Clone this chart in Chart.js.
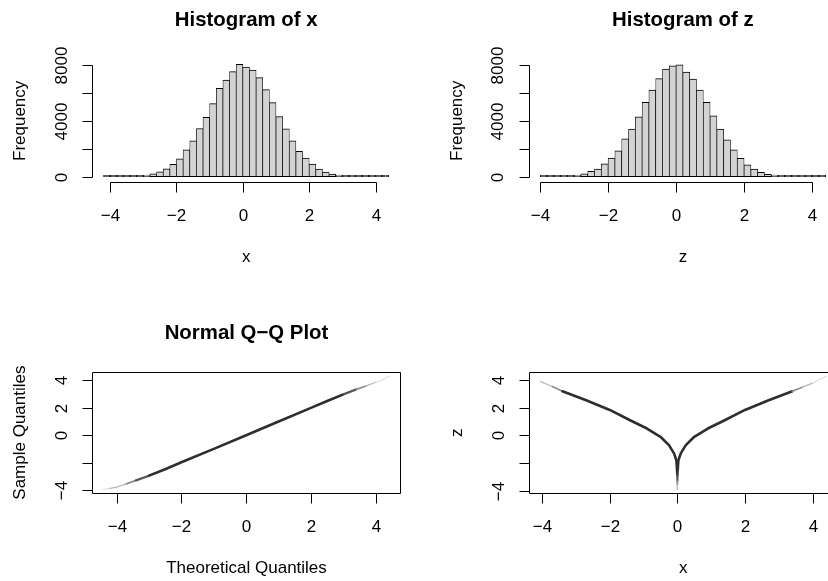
<!DOCTYPE html>
<html>
<head>
<meta charset="utf-8">
<script src="https://cdn.jsdelivr.net/npm/chart.js@4.4.1/dist/chart.umd.min.js"></script>
<style>
  html, body { margin: 0; padding: 0; background: #fff; width: 828px; height: 581px; overflow: hidden; position: relative; }
  canvas { position: absolute; }
</style>
</head>
<body>
<canvas id="histX" width="414" height="290" style="left:0;top:0;width:414px;height:290px"></canvas>
<canvas id="histZ" width="430" height="290" style="left:414px;top:0;width:430px;height:290px"></canvas>
<canvas id="qqPlot" width="414" height="291" style="left:0;top:290px;width:414px;height:291px"></canvas>
<canvas id="zVsX" width="430" height="291" style="left:414px;top:290px;width:430px;height:291px"></canvas>
<script>
// Histogram of x : left edge of each 0.2 wide bin, and its count
const binWidth = 0.2;
const xBinStarts = [-4.2, -4.0, -3.8, -3.6, -3.4, -3.2, -3.0, -2.8, -2.6, -2.4, -2.2, -2.0, -1.8, -1.6, -1.4,
  -1.2, -1.0, -0.8, -0.6, -0.4, -0.2, 0.0, 0.2, 0.4, 0.6, 0.8, 1.0, 1.2, 1.4, 1.6, 1.8, 2.0, 2.2, 2.4,
  2.6, 2.8, 3.0, 3.2, 3.4, 3.6, 3.8, 4.0, 4.2];
const xCounts = [1, 3, 8, 17, 33, 66, 110, 214, 357, 571, 880, 1285, 1928, 2570, 3451,
  4260, 5236, 6330, 6926, 7520, 8044, 7854, 7640, 7092, 6235, 5307, 4308, 3427, 2570, 1809, 1333, 904, 547, 333,
  190, 119, 65, 33, 17, 8, 4, 2, 1];

// Histogram of z
const zBinStarts = [-4.0, -3.8, -3.6, -3.4, -3.2, -3.0, -2.8, -2.6, -2.4, -2.2, -2.0, -1.8, -1.6, -1.4,
  -1.2, -1.0, -0.8, -0.6, -0.4, -0.2, 0.0, 0.2, 0.4, 0.6, 0.8, 1.0, 1.2, 1.4, 1.6, 1.8, 2.0, 2.2, 2.4,
  2.6, 2.8, 3.0, 3.2, 3.4, 3.6, 3.8, 4.0, 4.2];
const zCounts = [1, 3, 8, 17, 35, 110, 214, 380, 547, 928, 1333, 1856, 2713, 3403,
  4284, 5331, 6212, 7021, 7711, 7949, 8021, 7497, 6997, 6212, 5331, 4355, 3403, 2642, 1928, 1309, 857, 547, 309,
  167, 110, 62, 33, 17, 8, 4, 2, 1];

// Normal Q-Q plot
const qqTheoretical = [-4.42, -4.2, -4.0, -3.7, -3.4, -3.0, -2.5, -2.0, -1.0, 0, 1.0, 2.0, 2.5, 3.0, 3.4, 3.7, 4.0, 4.2, 4.42];
const qqSample      = [-3.94, -3.86, -3.78, -3.54, -3.28, -2.94, -2.47, -1.97, -0.99, 0, 1.0, 1.99, 2.49, 2.97, 3.33, 3.58, 3.85, 4.02, 4.30];

// z plotted against x: left and right branch of the curve
const leftX  = [-4.05, -3.7, -3.4, -2.7, -2.0, -1.4, -0.9, -0.5, -0.25, -0.1, -0.03, -0.01, 0, 0, 0, 0];
const leftZ  = [3.9, 3.55, 3.2, 2.55, 1.85, 1.1, 0.5, -0.1, -0.7, -1.3, -1.8, -2.5, -2.9, -3.3, -3.6, -3.94];
const rightX = [0.01, 0.03, 0.1, 0.25, 0.5, 0.9, 1.4, 2.0, 2.7, 3.4, 3.7, 4.0, 4.4];
const rightZ = [-2.5, -1.8, -1.3, -0.7, -0.1, 0.5, 1.1, 1.85, 2.55, 3.2, 3.5, 3.8, 4.3];

// Axis ticks and their labels
const MINUS = '\u2212';
const histXTicks = [-4, -2, 0, 2, 4];
const histXLabels = [MINUS + '4', MINUS + '2', '0', '2', '4'];
const histYTicks = [0, 2000, 4000, 6000, 8000];
const histYLabels = ['0', '', '4000', '', '8000'];
const qqTicks = [-4, -2, 0, 2, 4];
const qqXLabels = [MINUS + '4', MINUS + '2', '0', '2', '4'];
const qqYLabels = [MINUS + '4', '', '0', '2', '4'];

const FONT = '"Liberation Sans", Arial, Helvetica, sans-serif';
const TICK = 10;

// R style axes, titles and box drawn from the chart's own scales
const rAxes = {
  id: 'rAxes',
  afterDraw(chart, args, o) {
    const { ctx, chartArea: a } = chart;
    const sx = chart.scales.x, sy = chart.scales.y;
    const crisp = v => Math.round(v) + 0.5;
    ctx.save();
    ctx.strokeStyle = '#000';
    ctx.fillStyle = '#000';
    ctx.lineWidth = 1;
    const xp = o.xTicks.map(v => crisp(sx.getPixelForValue(v)));
    const yp = o.yTicks.map(v => crisp(sy.getPixelForValue(v)));
    const bot = crisp(a.bottom), lft = crisp(a.left);
    ctx.beginPath();
    if (o.box) {
      ctx.rect(lft, crisp(a.top), Math.round(a.right - a.left), Math.round(a.bottom - a.top));
    } else {
      ctx.moveTo(xp[0], bot); ctx.lineTo(xp[xp.length - 1], bot);
      ctx.moveTo(lft, yp[0]); ctx.lineTo(lft, yp[yp.length - 1]);
    }
    xp.forEach(p => { ctx.moveTo(p, bot); ctx.lineTo(p, bot + TICK); });
    yp.forEach(p => { ctx.moveTo(lft, p); ctx.lineTo(lft - TICK, p); });
    ctx.stroke();

    ctx.font = '17px ' + FONT;
    ctx.textAlign = 'center';
    ctx.textBaseline = 'alphabetic';
    o.xLabels.forEach((t, i) => ctx.fillText(t, xp[i], a.bottom + 38.5));
    o.yLabels.forEach((t, i) => {
      if (!t) return;
      ctx.save();
      ctx.translate(a.left - 25.5, yp[i]);
      ctx.rotate(-Math.PI / 2);
      ctx.fillText(t, 0, 0);
      ctx.restore();
    });
    const midX = (a.left + a.right) / 2, midY = (a.top + a.bottom) / 2;
    if (o.xTitle) ctx.fillText(o.xTitle, midX, a.bottom + 80);
    if (o.yTitle) {
      ctx.save();
      ctx.translate(a.left - 67, midY);
      ctx.rotate(-Math.PI / 2);
      ctx.fillText(o.yTitle, 0, 0);
      ctx.restore();
    }
    if (o.title) {
      ctx.font = 'bold 20.4px ' + FONT;
      ctx.fillText(o.title, midX, a.top - 33.5);
    }
    ctx.restore();
  }
};

// darker and thicker where the points are dense, faint in the tails
const shade = (c) => {
  const v = (Math.abs(c.p0.parsed.y) + Math.abs(c.p1.parsed.y)) / 2;
  if (v < 2.9) return { c: '#2e2e2e', w: 2.6 };
  if (v < 3.3) return { c: '#575757', w: 2.2 };
  if (v < 3.6) return { c: '#8c8c8c', w: 1.7 };
  if (v < 3.9) return { c: '#b8b8b8', w: 1.3 };
  return { c: '#dddddd', w: 1.1 };
};

const baseOpts = (xmin, xmax, ymin, ymax, padding, axes) => ({
  responsive: false,
  animation: false,
  devicePixelRatio: 1,
  layout: { padding },
  scales: {
    x: { type: 'linear', min: xmin, max: xmax, offset: false, display: false },
    y: { type: 'linear', min: ymin, max: ymax, display: false }
  },
  plugins: { legend: { display: false }, tooltip: { enabled: false }, rAxes: axes }
});

const histData = (starts, counts) => starts.map((s, i) => ({ x: s + binWidth / 2, y: counts[i] }));

const histDataset = (starts, counts) => ({
  data: histData(starts, counts),
  backgroundColor: '#d3d3d3',
  borderColor: '#000',
  borderWidth: { top: 1, bottom: 1, left: 0.7, right: 0.7 },
  borderSkipped: false,
  barPercentage: 1,
  categoryPercentage: 1,
  minBarLength: 1.4
});

new Chart(document.getElementById('histX'), {
  type: 'bar',
  data: { datasets: [histDataset(xBinStarts, xCounts)] },
  options: baseOpts(-4.544, 4.744, -401, 8401, { left: 92.1, right: 13.8, top: 59.4, bottom: 107.7 }, {
    xTicks: histXTicks, xLabels: histXLabels, yTicks: histYTicks, yLabels: histYLabels,
    title: 'Histogram of x', xTitle: 'x', yTitle: 'Frequency', box: false
  }),
  plugins: [rAxes]
});

new Chart(document.getElementById('histZ'), {
  type: 'bar',
  data: { datasets: [histDataset(zBinStarts, zCounts)] },
  options: baseOpts(-4.336, 4.736, -401, 8401, { left: 114.7, right: 6.9, top: 59.4, bottom: 107.7 }, {
    xTicks: histXTicks, xLabels: histXLabels, yTicks: histYTicks, yLabels: histYLabels,
    title: 'Histogram of z', xTitle: 'z', yTitle: 'Frequency', box: false
  }),
  plugins: [rAxes]
});

const lineDataset = (xs, ys) => ({
  data: xs.map((v, i) => ({ x: v, y: ys[i] })),
  showLine: true,
  pointRadius: 0,
  borderColor: '#2e2e2e',
  borderWidth: 2.6,
  borderCapStyle: 'round',
  borderJoinStyle: 'round',
  segment: { borderColor: c => shade(c).c, borderWidth: c => shade(c).w }
});

new Chart(document.getElementById('qqPlot'), {
  type: 'scatter',
  data: { datasets: [lineDataset(qqTheoretical, qqSample)] },
  options: baseOpts(-4.75, 4.77, -4.2, 4.58, { left: 92.3, right: 13.3, top: 82.2, bottom: 88 }, {
    xTicks: qqTicks, xLabels: qqXLabels, yTicks: qqTicks, yLabels: qqYLabels,
    title: 'Normal Q' + MINUS + 'Q Plot', xTitle: 'Theoretical Quantiles', yTitle: 'Sample Quantiles', box: true
  }),
  plugins: [rAxes]
});

new Chart(document.getElementById('zVsX'), {
  type: 'scatter',
  data: { datasets: [lineDataset(leftX, leftZ), lineDataset(rightX, rightZ)] },
  options: baseOpts(-4.39, 4.74, -4.2, 4.58, { left: 115, right: 6.4, top: 82.3, bottom: 87.7 }, {
    xTicks: qqTicks, xLabels: qqXLabels, yTicks: qqTicks, yLabels: qqYLabels,
    title: '', xTitle: 'x', yTitle: 'z', box: true
  }),
  plugins: [rAxes]
});
</script>
</body>
</html>
